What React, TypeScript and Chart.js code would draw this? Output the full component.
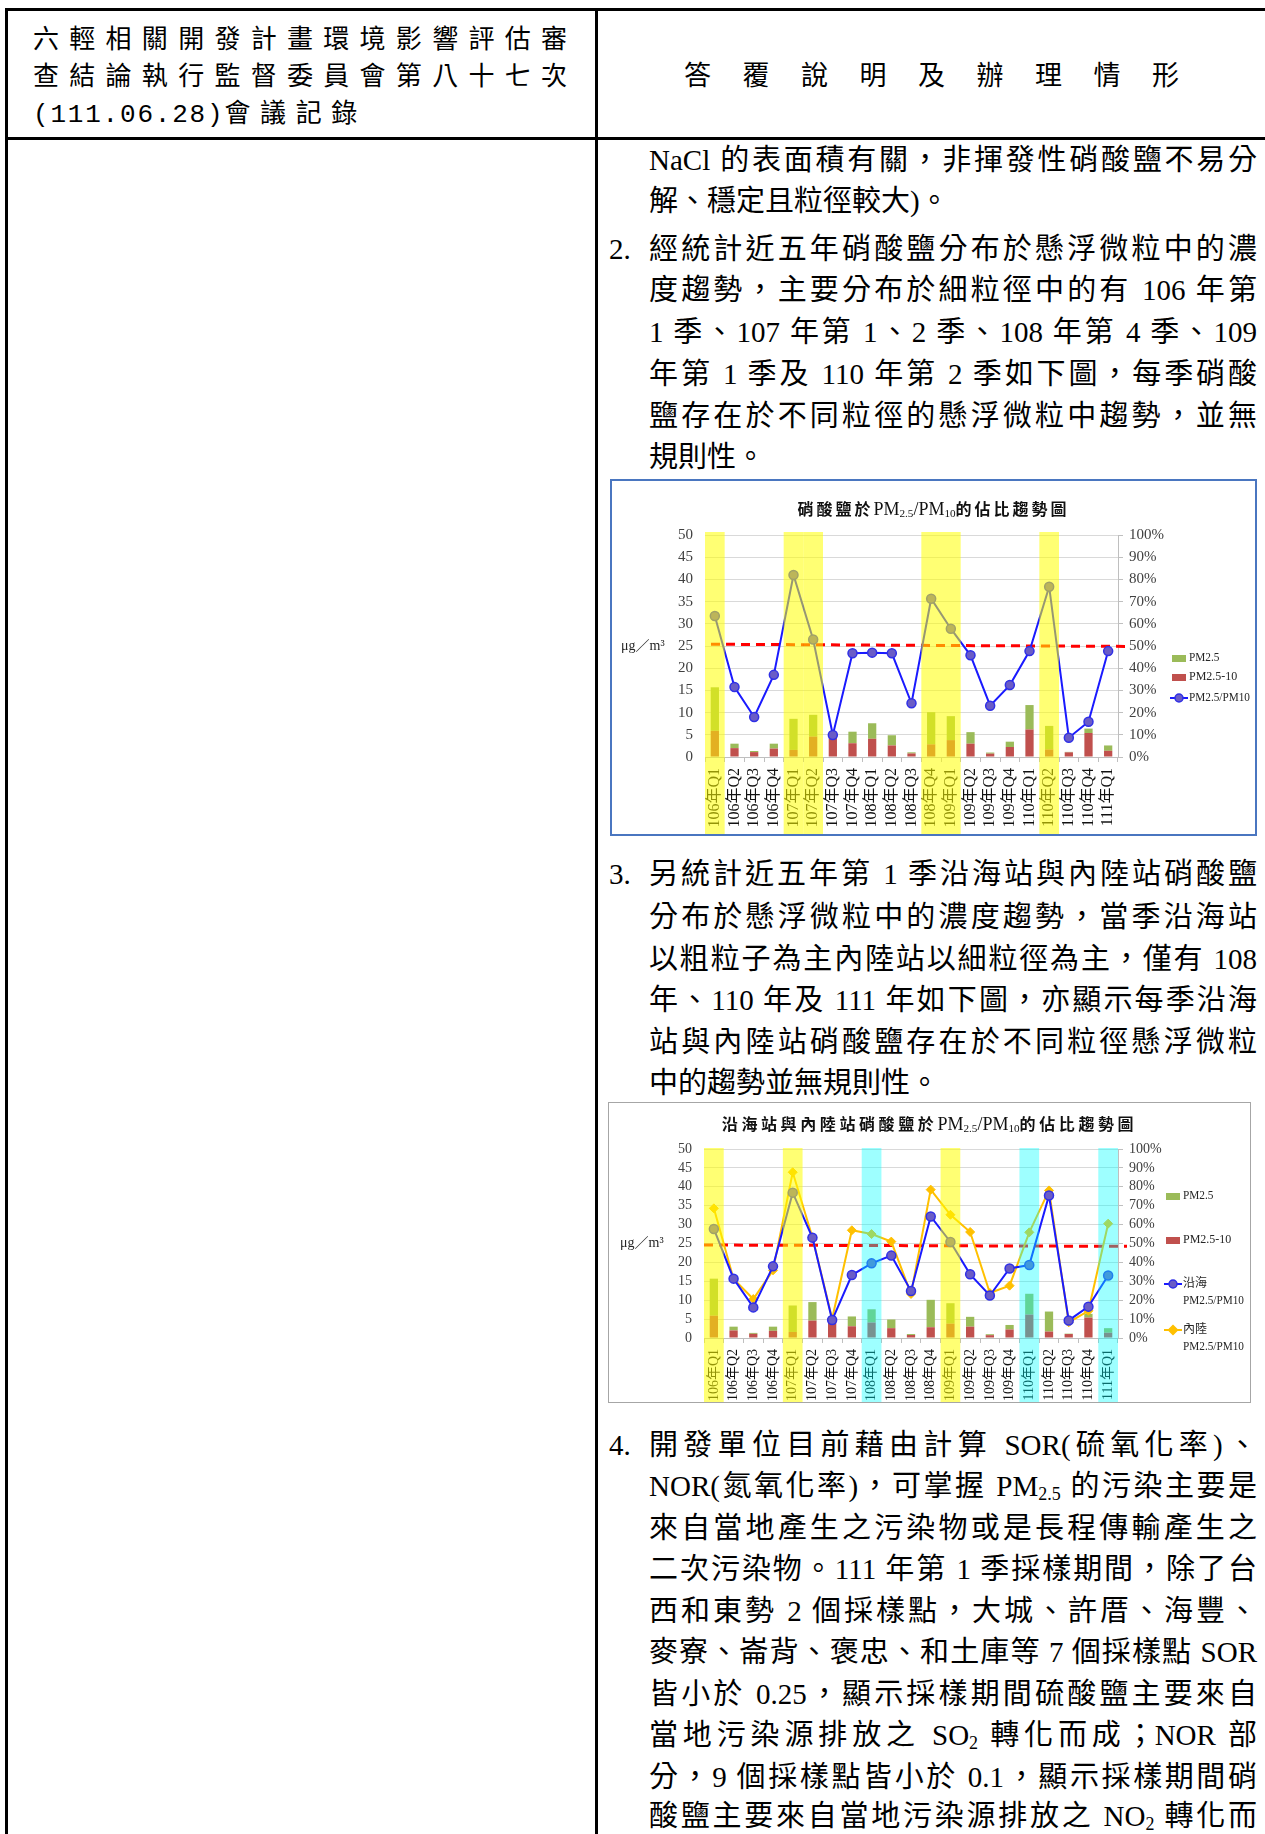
import React, { useEffect, useRef } from 'react';
import { Chart, registerables } from 'chart.js';

Chart.register(...registerables);

// ---------- data ----------
const QUARTERS = ['106年Q1', '106年Q2', '106年Q3', '106年Q4', '107年Q1', '107年Q2', '107年Q3', '107年Q4', '108年Q1', '108年Q2', '108年Q3', '108年Q4', '109年Q1', '109年Q2', '109年Q3', '109年Q4', '110年Q1', '110年Q2', '110年Q3', '110年Q4', '111年Q1'];
// nitrate (μg/m3): coarse part PM2.5-10 (stack bottom), fine part PM2.5 (stack top)
const NITRATE_PM25_10 = [5.9, 2.0, 1.1, 1.9, 1.6, 4.6, 4.8, 3.1, 4.1, 2.6, 0.8, 2.85, 3.8, 3.0, 0.75, 2.25, 6.2, 1.7, 1.05, 5.4, 1.4];
const NITRATE_PM25 = [9.8, 1.0, 0.25, 1.1, 7.0, 4.9, 0.5, 2.6, 3.5, 2.3, 0.25, 7.25, 5.4, 2.6, 0.25, 1.2, 5.5, 5.3, 0.1, 1.0, 1.2];
// PM2.5/PM10 ratio (%)
const RATIO_ALL = [63.5, 31.5, 18, 37, 82, 52.9, 9.9, 46.7, 47, 46.7, 24.2, 71.3, 57.8, 45.8, 23.1, 32.4, 47.7, 76.7, 8.7, 15.9, 47.7];
const RATIO_COAST = [57.7, 31.4, 16.2, 37.9, 76.9, 53.1, 9.5, 33.3, 39.5, 43.6, 24.9, 64.3, 50.8, 33.7, 22.5, 36.8, 38.6, 75.4, 9.3, 16.6, 33.1];
const RATIO_INLAND = [68.6, 31.2, 20.6, 35.8, 87.7, 53.3, 10.2, 57, 55, 51, 23.3, 78.5, 65.2, 56.1, 23.8, 27.7, 55.9, 78.1, 8.3, 14.4, 60.5];
const LEFT_MAX = 50;
const LEFT_STEP = 5;
const RIGHT_MAX = 100;
const RIGHT_STEP = 10;
const HIGHLIGHT_1 = ['106年Q1', '107年Q1', '107年Q2', '108年Q4', '109年Q1', '110年Q2'];
const HIGHLIGHT_2_YELLOW = ['106年Q1', '107年Q1', '109年Q1'];
const HIGHLIGHT_2_CYAN = ['108年Q1', '110年Q1', '111年Q1'];
const THRESHOLD_1 = [50.8, 49.8];
const THRESHOLD_2 = [49.2, 48.5];
const UNIT_LABEL = 'μg／m³';

// ---------- styles ----------
const YELLOW = 'rgba(255,255,0,0.55)';
const CYAN = 'rgba(0,255,255,0.38)';
const GREEN = '#9bbb59';
const RED = '#c0504d';
const TICK_FONT = '"Liberation Serif", "Noto Sans CJK TC", serif';
const BODY_FONT = '"Liberation Serif", "Noto Sans CJK TC", serif';

type LegendCfg = { ds: number; y: number; kind: 'box' | 'line'; marker?: 'circle' | 'diamond' };
type DecorCfg = {
  threshold: number[];
  thInset: number;
  thOver: number;
  highlights: { labels: string[]; color: string }[];
  hlTop: number;
  unitX: number;
  legendX: number;
  legend: LegendCfg[];
  legendFont: number;
};

function makeDecor(cfg: DecorCfg) {
  return {
    id: 'decor',
    beforeDatasetsDraw(chart: any) {
      const { ctx, chartArea } = chart;
      const y1 = chart.scales.y1;
      ctx.save();
      ctx.strokeStyle = '#ff0000';
      ctx.lineWidth = 3;
      ctx.setLineDash([9, 6]);
      ctx.beginPath();
      ctx.moveTo(chartArea.left + cfg.thInset, y1.getPixelForValue(cfg.threshold[0]));
      ctx.lineTo(chartArea.right + cfg.thOver, y1.getPixelForValue(cfg.threshold[1]));
      ctx.stroke();
      ctx.restore();
    },
    afterDraw(chart: any) {
      const { ctx, chartArea } = chart;
      const xs = chart.scales.x;
      const ys = chart.scales.y;
      const labels: string[] = chart.data.labels;
      const w = (xs.right - xs.left) / labels.length;
      ctx.save();
      // highlight columns (semi-transparent overlay)
      cfg.highlights.forEach((h) => {
        ctx.fillStyle = h.color;
        h.labels.forEach((lab) => {
          const i = labels.indexOf(lab);
          if (i < 0) return;
          const cx = xs.getPixelForValue(i);
          const top = chartArea.top + cfg.hlTop;
          ctx.fillRect(cx - w / 2, top, w, chart.height - top);
        });
      });
      // unit label
      ctx.fillStyle = '#262626';
      ctx.font = `14px ${TICK_FONT}`;
      ctx.textBaseline = 'middle';
      ctx.textAlign = 'left';
      ctx.fillText(UNIT_LABEL, cfg.unitX, ys.getPixelForValue(25), 54);
      // legend
      cfg.legend.forEach((it) => {
        const ds = chart.data.datasets[it.ds];
        const x = cfg.legendX;
        if (it.kind === 'box') {
          ctx.fillStyle = ds.backgroundColor;
          ctx.fillRect(x, it.y - 3, 14, 7);
        } else {
          ctx.strokeStyle = ds.borderColor;
          ctx.lineWidth = 2;
          ctx.beginPath();
          ctx.moveTo(x - 2, it.y);
          ctx.lineTo(x + 16, it.y);
          ctx.stroke();
          ctx.fillStyle = ds.pointBackgroundColor;
          ctx.strokeStyle = ds.pointBorderColor;
          ctx.lineWidth = 1.5;
          ctx.beginPath();
          if (it.marker === 'diamond') {
            ctx.moveTo(x + 7, it.y - 4.5);
            ctx.lineTo(x + 11.5, it.y);
            ctx.lineTo(x + 7, it.y + 4.5);
            ctx.lineTo(x + 2.5, it.y);
            ctx.closePath();
          } else {
            ctx.arc(x + 7, it.y, 4, 0, Math.PI * 2);
          }
          ctx.fill();
          ctx.stroke();
        }
        ctx.fillStyle = '#262626';
        ctx.font = `${cfg.legendFont}px ${TICK_FONT}`;
        ctx.textBaseline = 'middle';
        const parts = String(ds.label).split('\n');
        parts.forEach((p, k) => {
          const tw = ctx.measureText(p).width;
          const isAscii = /^[\x00-\x7f]*$/.test(p);
          ctx.fillText(p, x + 17, it.y + k * 17, isAscii ? Math.min(tw, p.length * 6.1) : tw + 1);
        });
      });
      ctx.restore();
    },
  };
}

function baseScales(xHeight: number, yWidth: number, y1Width: number, tickSize: number, ySize: number) {
  return {
    x: {
      stacked: true,
      offset: true,
      grid: { display: true, drawOnChartArea: false, offset: true, tickLength: 5, color: '#bfbfbf' },
      border: { display: true, color: '#bfbfbf' },
      ticks: { autoSkip: false, maxRotation: 90, minRotation: 90, padding: 6, color: '#111', font: { family: TICK_FONT, size: tickSize } },
      afterFit: (s: any) => { s.height = xHeight; },
    },
    y: {
      stacked: true,
      min: 0,
      max: LEFT_MAX,
      ticks: { stepSize: LEFT_STEP, autoSkip: false, maxTicksLimit: 20, padding: 12, color: '#404040', font: { family: TICK_FONT, size: ySize } },
      grid: { color: '#d9d9d9', drawTicks: false },
      border: { display: false },
      afterFit: (s: any) => { s.width = yWidth; },
    },
    y1: {
      position: 'right',
      min: 0,
      max: RIGHT_MAX,
      ticks: { stepSize: RIGHT_STEP, autoSkip: false, maxTicksLimit: 20, padding: 6, color: '#404040', font: { family: TICK_FONT, size: ySize }, callback: (v: any) => v + '%' },
      grid: { drawOnChartArea: false, tickLength: 5, color: '#bfbfbf' },
      border: { display: true, color: '#bfbfbf' },
      afterFit: (s: any) => { s.width = y1Width; },
    },
  };
}

function barSets() {
  return [
    { type: 'bar', label: 'PM2.5-10', data: NITRATE_PM25_10, backgroundColor: RED, stack: 's', order: 2, yAxisID: 'y', barPercentage: 0.42, categoryPercentage: 1 },
    { type: 'bar', label: 'PM2.5', data: NITRATE_PM25, backgroundColor: GREEN, stack: 's', order: 2, yAxisID: 'y', barPercentage: 0.42, categoryPercentage: 1 },
  ];
}

function Chart1() {
  const ref = useRef<HTMLCanvasElement>(null);
  useEffect(() => {
    const c = new Chart(ref.current as HTMLCanvasElement, {
      type: 'bar',
      data: {
        labels: QUARTERS,
        datasets: [
          ...barSets(),
          { type: 'line', label: 'PM2.5/PM10', data: RATIO_ALL, yAxisID: 'y1', borderColor: '#1a1aff', borderWidth: 2, tension: 0, pointRadius: 4.5, pointBackgroundColor: '#6a5cc6', pointBorderColor: '#3030e6', pointBorderWidth: 1.5, order: 0 },
        ] as any,
      },
      options: {
        responsive: false,
        animation: false,
        layout: { padding: { top: 54, left: 0, right: 0, bottom: 0 } },
        plugins: { legend: { display: false }, tooltip: { enabled: false } },
        scales: baseScales(77, 93, 137, 16, 15) as any,
      },
      plugins: [makeDecor({
        threshold: THRESHOLD_1, thInset: 6, thOver: 11,
        highlights: [{ labels: HIGHLIGHT_1, color: YELLOW }], hlTop: -3,
        unitX: 9, legendX: 560,
        legend: [
          { ds: 1, y: 177, kind: 'box' },
          { ds: 0, y: 196, kind: 'box' },
          { ds: 2, y: 217, kind: 'line', marker: 'circle' },
        ],
        legendFont: 12,
      })],
    });
    return () => c.destroy();
  }, []);
  return <canvas ref={ref} width={643} height={353} style={{ display: 'block' }} />;
}

function Chart2() {
  const ref = useRef<HTMLCanvasElement>(null);
  useEffect(() => {
    const c = new Chart(ref.current as HTMLCanvasElement, {
      type: 'bar',
      data: {
        labels: QUARTERS,
        datasets: [
          ...barSets(),
          { type: 'line', label: '沿海\nPM2.5/PM10', data: RATIO_COAST, yAxisID: 'y1', borderColor: '#1a1aff', borderWidth: 2, tension: 0, pointRadius: 4.5, pointBackgroundColor: '#6a5cc6', pointBorderColor: '#3030e6', pointBorderWidth: 1.5, order: 0 },
          { type: 'line', label: '內陸\nPM2.5/PM10', data: RATIO_INLAND, yAxisID: 'y1', borderColor: '#ffc000', borderWidth: 2, tension: 0, pointStyle: 'rectRot', pointRadius: 4.5, pointBackgroundColor: '#ffc000', pointBorderColor: '#ffc000', pointBorderWidth: 1, order: 1 },
        ] as any,
      },
      options: {
        responsive: false,
        animation: false,
        layout: { padding: { top: 46, left: 0, right: 0, bottom: 0 } },
        plugins: { legend: { display: false }, tooltip: { enabled: false } },
        scales: baseScales(64, 95, 132, 14, 14) as any,
      },
      plugins: [makeDecor({
        threshold: THRESHOLD_2, thInset: 0, thOver: 9,
        highlights: [{ labels: HIGHLIGHT_2_YELLOW, color: YELLOW }, { labels: HIGHLIGHT_2_CYAN, color: CYAN }], hlTop: -1,
        unitX: 11, legendX: 557,
        legend: [
          { ds: 1, y: 93, kind: 'box' },
          { ds: 0, y: 137, kind: 'box' },
          { ds: 2, y: 181, kind: 'line', marker: 'circle' },
          { ds: 3, y: 227, kind: 'line', marker: 'diamond' },
        ],
        legendFont: 12,
      })],
    });
    return () => c.destroy();
  }, []);
  return <canvas ref={ref} width={641} height={299} style={{ display: 'block' }} />;
}

// ---------- text ----------
const Sub = ({ children }: { children: React.ReactNode }) => (
  <span style={{ fontSize: '0.62em', verticalAlign: '-0.22em', lineHeight: 0 }}>{children}</span>
);
const Lat = ({ children }: { children: React.ReactNode }) => (
  <span style={{ letterSpacing: 0, fontWeight: 'normal', fontSize: 18 }}>{children}</span>
);

type TLine = { y: number; j: boolean; t: React.ReactNode };
const BODY_LINES: TLine[] = [
  { y: 160, j: true, t: 'NaCl 的表面積有關，非揮發性硝酸鹽不易分' },
  { y: 201, j: false, t: '解、穩定且粒徑較大)。' },
  { y: 249, j: true, t: '經統計近五年硝酸鹽分布於懸浮微粒中的濃' },
  { y: 290, j: true, t: '度趨勢，主要分布於細粒徑中的有 106 年第' },
  { y: 332, j: true, t: '1 季、107 年第 1、2 季、108 年第 4 季、109' },
  { y: 374, j: true, t: '年第 1 季及 110 年第 2 季如下圖，每季硝酸' },
  { y: 416, j: true, t: '鹽存在於不同粒徑的懸浮微粒中趨勢，並無' },
  { y: 457, j: false, t: '規則性。' },
  { y: 874, j: true, t: '另統計近五年第 1 季沿海站與內陸站硝酸鹽' },
  { y: 917, j: true, t: '分布於懸浮微粒中的濃度趨勢，當季沿海站' },
  { y: 959, j: true, t: '以粗粒子為主內陸站以細粒徑為主，僅有 108' },
  { y: 1000, j: true, t: '年、110 年及 111 年如下圖，亦顯示每季沿海' },
  { y: 1042, j: true, t: '站與內陸站硝酸鹽存在於不同粒徑懸浮微粒' },
  { y: 1083, j: false, t: '中的趨勢並無規則性。' },
  { y: 1445, j: true, t: '開發單位目前藉由計算 SOR(硫氧化率)、' },
  { y: 1486, j: true, t: <>NOR(氮氧化率)，可掌握 PM<Sub>2.5</Sub> 的污染主要是</> },
  { y: 1528, j: true, t: '來自當地產生之污染物或是長程傳輸產生之' },
  { y: 1569, j: true, t: '二次污染物。111 年第 1 季採樣期間，除了台' },
  { y: 1611, j: true, t: '西和東勢 2 個採樣點，大城、許厝、海豐、' },
  { y: 1652, j: true, t: '麥寮、崙背、褒忠、和土庫等 7 個採樣點 SOR' },
  { y: 1694, j: true, t: '皆小於 0.25，顯示採樣期間硫酸鹽主要來自' },
  { y: 1735, j: true, t: <>當地污染源排放之 SO<Sub>2</Sub> 轉化而成；NOR 部</> },
  { y: 1777, j: true, t: '分，9 個採樣點皆小於 0.1，顯示採樣期間硝' },
  { y: 1816, j: true, t: <>酸鹽主要來自當地污染源排放之 NO<Sub>2</Sub> 轉化而</> },
];
const ITEM_NUMBERS = [
  { y: 249, t: '2.' },
  { y: 874, t: '3.' },
  { y: 1445, t: '4.' },
];

const abs = (l: number, t: number, w: number, h: number): React.CSSProperties => ({ position: 'absolute', left: l, top: t, width: w, height: h });

export default function App() {
  return (
    <div style={{ position: 'absolute', left: 0, top: 0, width: 1265, height: 1834, overflow: 'hidden', background: '#fff', color: '#000', fontFamily: BODY_FONT }}>
      {/* table lines */}
      <div style={{ ...abs(5, 8, 1270, 3), background: '#000' }} />
      <div style={{ ...abs(5, 137, 1270, 3), background: '#000' }} />
      <div style={{ ...abs(5, 8, 3, 1840), background: '#000' }} />
      <div style={{ ...abs(595, 8, 3, 1840), background: '#000' }} />

      {/* header left */}
      <div style={{ ...abs(33, 21, 534, 37), fontSize: 26, lineHeight: '37px', textAlign: 'justify', textAlignLast: 'justify' }}>六輕相關開發計畫環境影響評估審</div>
      <div style={{ ...abs(33, 58, 534, 37), fontSize: 26, lineHeight: '37px', textAlign: 'justify', textAlignLast: 'justify' }}>查結論執行監督委員會第八十七次</div>
      <div style={{ ...abs(33, 95, 534, 37), fontSize: 26, lineHeight: '37px', whiteSpace: 'nowrap' }}>
        <span style={{ fontFamily: '"Liberation Mono", monospace', letterSpacing: 1.8 }}>(111.06.28)</span>
        <span style={{ letterSpacing: 9.6 }}>會議記錄</span>
      </div>
      {/* header right */}
      <div style={{ ...abs(684, 58, 580, 37), fontSize: 27, lineHeight: '37px', letterSpacing: 31.5, whiteSpace: 'nowrap' }}>答覆說明及辦理情形</div>

      {/* body text */}
      {ITEM_NUMBERS.map((n, i) => (
        <div key={'n' + i} style={{ ...abs(609, n.y - 20, 40, 40), fontSize: 29, lineHeight: '40px' }}>{n.t}</div>
      ))}
      {BODY_LINES.map((l, i) => (
        <div key={i} style={{ ...abs(649, l.y - 20, 608, 40), fontSize: 29, lineHeight: '40px', textAlign: l.j ? 'justify' : 'left', textAlignLast: l.j ? 'justify' : 'left' }}>{l.t}</div>
      ))}

      {/* chart 1 */}
      <div style={{ ...abs(610, 479, 647, 357), border: '2px solid #4a76c0', boxSizing: 'border-box' }}>
        <Chart1 />
        <div style={{ position: 'absolute', left: 0, top: 18, width: '100%', textAlign: 'center', fontSize: 16, lineHeight: '20px', fontWeight: 'bold', letterSpacing: 3, whiteSpace: 'nowrap', color: '#111' }}>
          硝酸鹽於<Lat>PM<Sub>2.5</Sub>/PM<Sub>10</Sub></Lat>的佔比趨勢圖
        </div>
      </div>

      {/* chart 2 */}
      <div style={{ ...abs(608, 1102, 643, 301), border: '1px solid #a6a6a6', boxSizing: 'border-box' }}>
        <Chart2 />
        <div style={{ position: 'absolute', left: 0, top: 11, width: '100%', textAlign: 'center', fontSize: 16, lineHeight: '20px', fontWeight: 'bold', letterSpacing: 3.6, whiteSpace: 'nowrap', color: '#111' }}>
          沿海站與內陸站硝酸鹽於<Lat>PM<Sub>2.5</Sub>/PM<Sub>10</Sub></Lat>的佔比趨勢圖
        </div>
      </div>
    </div>
  );
}
